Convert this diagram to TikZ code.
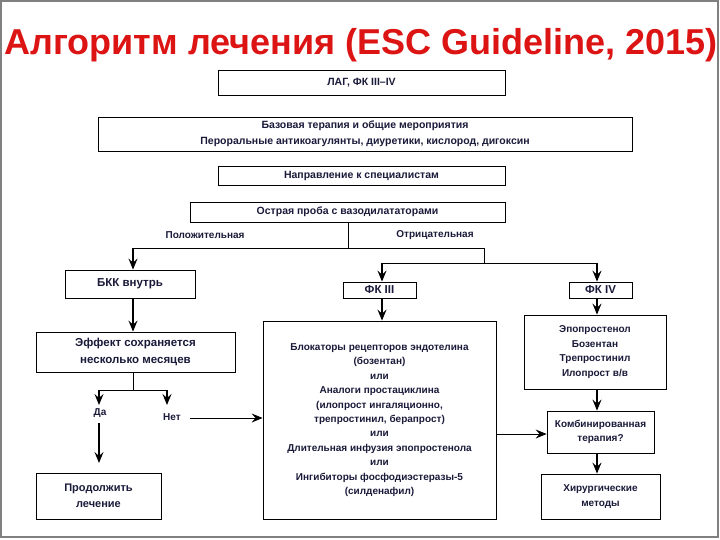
\documentclass[tikz,border=0pt]{standalone}
\usepackage{fontspec}
\setmainfont{Liberation Sans}
\usetikzlibrary{arrows.meta}
\definecolor{ink}{HTML}{1A1A3A}
\begin{document}
\begin{tikzpicture}[x=1pt,y=-1pt,
  box/.style={draw=black,line width=0.8pt,inner sep=0pt,font=\bfseries\fontsize{10.5}{16}\selectfont,text=ink,align=center},
  arr/.style={line width=1.4pt,-{Stealth[length=11pt,width=9pt,inset=4pt]}},
  tarr/.style={line width=0.8pt,-{Stealth[length=11pt,width=9pt,inset=4pt]}},
  ln/.style={line width=1pt},
  lbl/.style={font=\bfseries\fontsize{10}{12}\selectfont,text=ink,inner sep=0pt}]
\useasboundingbox (0,0) rectangle (720,540);
\fill[white] (0,0) rectangle (720,540);
\draw[gray,line width=1.2pt] (1,1) rectangle (718,537);
\node[font=\bfseries\fontsize{36}{40}\selectfont,text={rgb,255:red,220;green,20;blue,20},inner sep=0pt] (title) at (361,45) {Алгоритм лечения (ESC Guideline, 2015)};
\node[box,minimum width=287,minimum height=25] (lag) at (361.5,82.5) {ЛАГ, ФК III–IV};
\node[box,minimum width=534,minimum height=34] (base) at (365,134) {Базовая терапия и общие мероприятия\\Пероральные антикоагулянты, диуретики, кислород, дигоксин};
\node[box,minimum width=287,minimum height=19] (napr) at (361.5,175.5) {Направление к специалистам};
\node[box,minimum width=315,minimum height=20] (proba) at (347.5,212) {Острая проба с вазодилататорами};
\node[lbl] (pos) at (205,235) {Положительная};
\node[lbl] (neg) at (435,235) {Отрицательная};
\node[box,minimum width=130,minimum height=28,font=\bfseries\fontsize{11.5}{14}\selectfont] (bkk) at (130,284) {БКК внутрь};
\node[box,minimum width=73,minimum height=16,font=\bfseries\fontsize{11.5}{14}\selectfont] (fk3) at (379.5,290) {ФК III};
\node[box,minimum width=63,minimum height=16,font=\bfseries\fontsize{11.5}{14}\selectfont] (fk4) at (600.5,290) {ФК IV};
\node[box,minimum width=199,minimum height=40,font=\bfseries\fontsize{11.5}{17}\selectfont] (eff) at (135.5,352) {Эффект сохраняется\\несколько месяцев};
\node[lbl] (da) at (100,413) {Да};
\node[lbl] (net) at (172,417) {Нет};
\node[box,minimum width=125,minimum height=46,font=\bfseries\fontsize{11}{16.5}\selectfont] (prod) at (98.5,496) {Продолжить\\лечение};
\node[box,minimum width=233,minimum height=198,font=\bfseries\fontsize{10}{14.4}\selectfont] (blk) at (379.5,420) {Блокаторы рецепторов эндотелина\\(бозентан)\\или\\Аналоги простациклина\\(илопрост ингаляционно,\\трепростинил, берапрост)\\или\\Длительная инфузия эпопростенола\\или\\Ингибиторы фосфодиэстеразы-5\\(силденафил)};
\node[box,minimum width=142,minimum height=74,font=\bfseries\fontsize{10}{14.4}\selectfont] (epo) at (595,352) {Эпопростенол\\Бозентан\\Трепростинил\\Илопрост в/в};
\node[box,minimum width=107,minimum height=42,font=\bfseries\fontsize{10}{14.4}\selectfont] (komb) at (600.5,432) {Комбинированная\\терапия?};
\node[box,minimum width=119,minimum height=45,font=\bfseries\fontsize{10}{14.4}\selectfont] (hir) at (600.5,496.5) {Хирургические\\методы};
\coordinate (j1) at (348,248);
\coordinate (j2) at (484,263);
\coordinate (j3) at (133,390);
\draw[ln] (proba.south -| j1) -- (j1) -- (133,248) (j1) -- (484,248) -- (j2);
\draw[arr] (133,248) -- (bkk.north -| 133,0);
\draw[ln] (382,263) -- (597,263);
\draw[arr] (382,263) -- (fk3.north -| 382,0);
\draw[arr] (597,263) -- (fk4.north -| 597,0);
\draw[arr] (bkk.south -| 133,0) -- (eff.north -| 133,0);
\draw[ln] (eff.south -| j3) -- (j3) (99,390) -- (167,390);
\draw[arr] (99,390) -- (99,405);
\draw[arr] (167,390) -- (167,405);
\draw[arr] (99,423) -- (99,463);
\draw[tarr] (190,418) -- (blk.west |- 0,418);
\draw[arr] (fk3.south -| 382,0) -- (blk.north -| 382,0);
\draw[arr] (fk4.south -| 597,0) -- (epo.north -| 597,0);
\draw[arr] (epo.south -| 597,0) -- (komb.north -| 597,0);
\draw[arr] (komb.south -| 597,0) -- (hir.north -| 597,0);
\draw[tarr] (blk.east |- 0,434) -- (komb.west |- 0,434);
\end{tikzpicture}
\end{document}
